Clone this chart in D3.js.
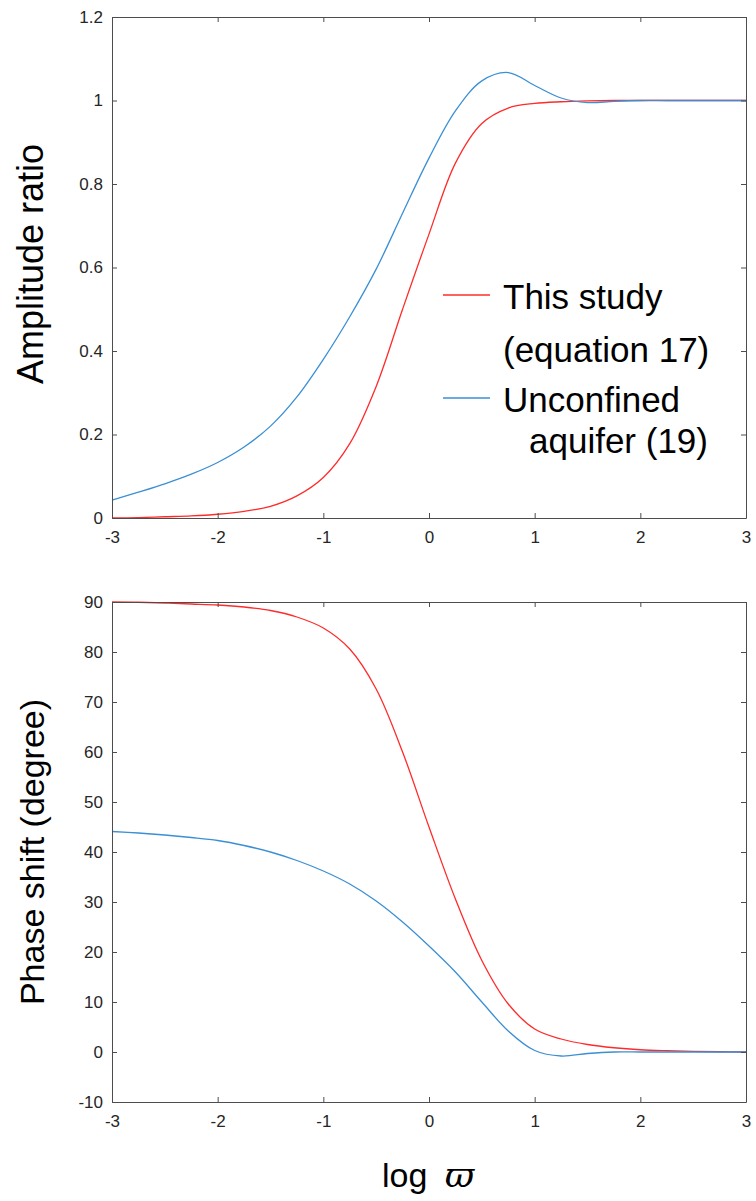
<!DOCTYPE html>
<html>
<head>
<meta charset="utf-8">
<script src="https://cdn.jsdelivr.net/npm/d3@7"></script>
<style>
  body { margin: 0; background: #fff; }
  svg { display: block; font-family: "Liberation Sans", Arial, Helvetica, sans-serif; }
  .tick text { fill: #262626; }
</style>
</head>
<body>
<div id="chart"></div>
<script>
// log(varpi) sample points
const logW = [-3, -2.75, -2.5, -2.25, -2, -1.75, -1.5, -1.25, -1, -0.75, -0.5, -0.25, 0,
              0.25, 0.5, 0.75, 1, 1.25, 1.5, 1.75, 2, 2.25, 2.5, 2.75, 3];

// amplitude ratio
const ampThis = [0, 0.001, 0.003, 0.005, 0.009, 0.016, 0.028, 0.053, 0.097, 0.178, 0.315, 0.5, 0.68,
                 0.85, 0.945, 0.982, 0.993, 0.997, 0.999, 1, 1, 1, 1, 1, 1];
const ampUnconf = [0.043, 0.062, 0.082, 0.105, 0.133, 0.170, 0.220, 0.290, 0.380, 0.482, 0.596, 0.730, 0.862,
                   0.975, 1.047, 1.067, 1.036, 1.006, 0.995, 0.998, 1, 1, 1, 1, 1];

// phase shift (degree)
const phaseThis = [90, 89.95, 89.8, 89.6, 89.4, 89.0, 88.3, 87.0, 84.8, 80.6, 72.6, 60, 45,
                   30.6, 18.3, 9.6, 4.6, 2.6, 1.5, 0.85, 0.45, 0.25, 0.12, 0.05, 0];
const phaseUnconf = [44.1, 43.8, 43.4, 42.9, 42.3, 41.3, 40.0, 38.3, 36.2, 33.6, 30.2, 26.0, 21.2,
                     16.0, 10.0, 4.2, 0.3, -0.8, -0.3, 0, 0, 0, 0, 0, 0];

const xTicks = [-3, -2, -1, 0, 1, 2, 3];
const ampTicks = [0, 0.2, 0.4, 0.6, 0.8, 1, 1.2];
const phaseTicks = [-10, 0, 10, 20, 30, 40, 50, 60, 70, 80, 90];

const legendNames = [["This study", "(equation 17)"], ["Unconfined", "aquifer (19)"]];

const red = "#ff2b2b", blue = "#3b8fd4";

const W = 756, H = 1201;
const svg = d3.select("#chart").append("svg")
    .attr("width", W)
    .attr("height", H);

const x = d3.scaleLinear().domain([-3, 3]).range([112, 746]);

function panel(yDomain, yRange, ticks, series) {
    const y = d3.scaleLinear().domain(yDomain).range(yRange);
    const g = svg.append("g");

    const line = d3.line()
        .x((d, i) => x(logW[i]))
        .y(d => y(d))
        .curve(d3.curveCatmullRom.alpha(0.5));

    series.forEach(s => {
        g.append("path")
            .datum(s.values)
            .attr("fill", "none")
            .attr("stroke", s.color)
            .attr("stroke-width", 1.3)
            .attr("d", line);
    });

    // axes, ticks pointing inwards on all four sides
    g.append("g")
        .attr("transform", `translate(0, ${yRange[0]})`)
        .call(d3.axisBottom(x).tickValues(xTicks).tickSize(-5).tickSizeOuter(0).tickPadding(13).tickFormat(d => String(d)));
    g.append("g")
        .attr("transform", `translate(0, ${yRange[1]})`)
        .call(d3.axisTop(x).tickValues(xTicks).tickSize(-5).tickSizeOuter(0).tickFormat(""));
    g.append("g")
        .attr("transform", `translate(112, 0)`)
        .call(d3.axisLeft(y).tickValues(ticks).tickSize(-5).tickSizeOuter(0).tickPadding(9).tickFormat(d => String(d)));
    g.append("g")
        .attr("transform", `translate(746, 0)`)
        .call(d3.axisRight(y).tickValues(ticks).tickSize(-5).tickSizeOuter(0).tickFormat(""));

    g.selectAll(".domain, .tick line").attr("stroke", "#4d4d4d");
    g.selectAll(".tick text").attr("font-size", 17).attr("font-family", "Liberation Sans, Arial, sans-serif");
    return y;
}

panel([0, 1.2], [518, 17], ampTicks, [
    {values: ampThis, color: red},
    {values: ampUnconf, color: blue}
]);
panel([-10, 90], [1102, 602], phaseTicks, [
    {values: phaseThis, color: red},
    {values: phaseUnconf, color: blue}
]);

// axis titles
svg.append("text")
    .attr("transform", "translate(43, 264) rotate(-90)")
    .attr("text-anchor", "middle")
    .attr("font-size", 36)
    .attr("fill", "#000")
    .text("Amplitude ratio");

svg.append("text")
    .attr("transform", "translate(44, 852) rotate(-90)")
    .attr("text-anchor", "middle")
    .attr("font-size", 34)
    .attr("fill", "#000")
    .text("Phase shift (degree)");

const xl = svg.append("text")
    .attr("x", 382)
    .attr("y", 1187)
    .attr("font-size", 34)
    .attr("fill", "#000");
xl.append("tspan").text("log ");
xl.append("tspan")
    .attr("font-family", "DejaVu Serif, Liberation Serif, serif")
    .attr("font-style", "italic")
    .attr("font-size", 36)
    .attr("dx", 8)
    .text("ϖ");

// legend
const leg = svg.append("g");
const legY = [295, 398];
const legColors = [red, blue];
legendNames.forEach((names, i) => {
    leg.append("line")
        .attr("x1", 443).attr("x2", 490)
        .attr("y1", legY[i]).attr("y2", legY[i])
        .attr("stroke", legColors[i])
        .attr("stroke-width", 1.3);
    leg.append("text")
        .attr("x", 503).attr("y", legY[i] + 14)
        .attr("font-size", 35)
        .attr("fill", "#000")
        .text(names[0]);
    leg.append("text")
        .attr("x", i === 0 ? 503 : 529).attr("y", legY[i] + (i === 0 ? 67 : 55))
        .attr("font-size", 35)
        .attr("fill", "#000")
        .text(names[1]);
});
</script>
</body>
</html>
